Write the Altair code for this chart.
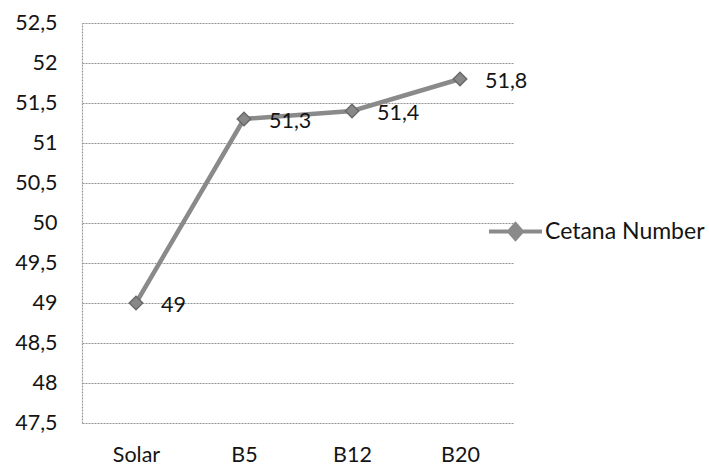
import altair as alt
import pandas as pd

# Cetane number of diesel (Solar) and its biodiesel blends
blends = ["Solar", "B5", "B12", "B20"]
cetane = [49, 51.3, 51.4, 51.8]
series_name = "Cetana Number"
y_ticks = [47.5, 48, 48.5, 49, 49.5, 50, 50.5, 51, 51.5, 52, 52.5]

df = pd.DataFrame({"blend": blends, "value": cetane})
df["series"] = series_name
df["label"] = [str(v).replace(".", ",") if v % 1 else str(int(v)) for v in cetane]

FONT = "Lato"
TEXT = "#141414"
LINE_GRAY = "#8a8a8a"

# legend glyph: a short line with a diamond in the middle
legend_glyph = "M-1,0L-0.24,0M0.24,0L1,0M-0.24,0L0,-0.27L0.24,0L0,0.27Z"

x_enc = alt.X(
    "blend:N",
    sort=blends,
    scale=alt.Scale(type="point", padding=0.5),
    axis=alt.Axis(
        title=None, domain=False, ticks=False, grid=False,
        labelAngle=0, labelPadding=21, labelFontSize=21.5,
        labelFont=FONT, labelColor=TEXT,
    ),
)
y_enc = alt.Y(
    "value:Q",
    scale=alt.Scale(domain=[47.5, 52.5], nice=False, zero=False),
    axis=alt.Axis(
        title=None, values=y_ticks, ticks=False,
        labelExpr="replace(toString(datum.value), '.', ',')",
        labelPadding=25, labelFontSize=21.5, labelFont=FONT, labelColor=TEXT,
        domain=True, domainColor="#9a9a9a", domainDash=[2, 1], domainWidth=1.2,
        grid=True, gridColor="#939393", gridDash=[2, 1], gridWidth=1.2,
    ),
)
color_enc = alt.Color(
    "series:N",
    scale=alt.Scale(range=[LINE_GRAY]),
    legend=alt.Legend(
        title=None, orient="none", legendX=405, legendY=180,
        symbolType=legend_glyph, symbolSize=2809, symbolStrokeWidth=4,
        symbolFillColor="#858585", symbolStrokeColor=LINE_GRAY,
        labelFont=FONT, labelFontSize=23, labelColor=TEXT, labelOffset=1,
    ),
)

base = alt.Chart(df).encode(x=x_enc, y=y_enc)

line = base.mark_line(strokeWidth=4.5).encode(color=color_enc)
points = base.mark_point(
    shape="diamond", size=180, filled=True, fill="#888888",
    stroke="#6a6a6a", strokeWidth=1.5, opacity=1,
).encode(color=color_enc)
labels = base.mark_text(
    align="left", baseline="middle", dx=25, dy=3,
    font=FONT, fontSize=21.5, color=TEXT,
).encode(text="label:N")

chart = (
    alt.layer(line, points, labels)
    .properties(
        width=432, height=400,
        padding={"left": 82, "top": 23, "right": 195, "bottom": 45},
        autosize=alt.AutoSizeParams(type="none"),
        background="white",
    )
    .configure_view(stroke=None)
)

chart.save("out.html", embed_options={"renderer": "svg", "actions": False})
